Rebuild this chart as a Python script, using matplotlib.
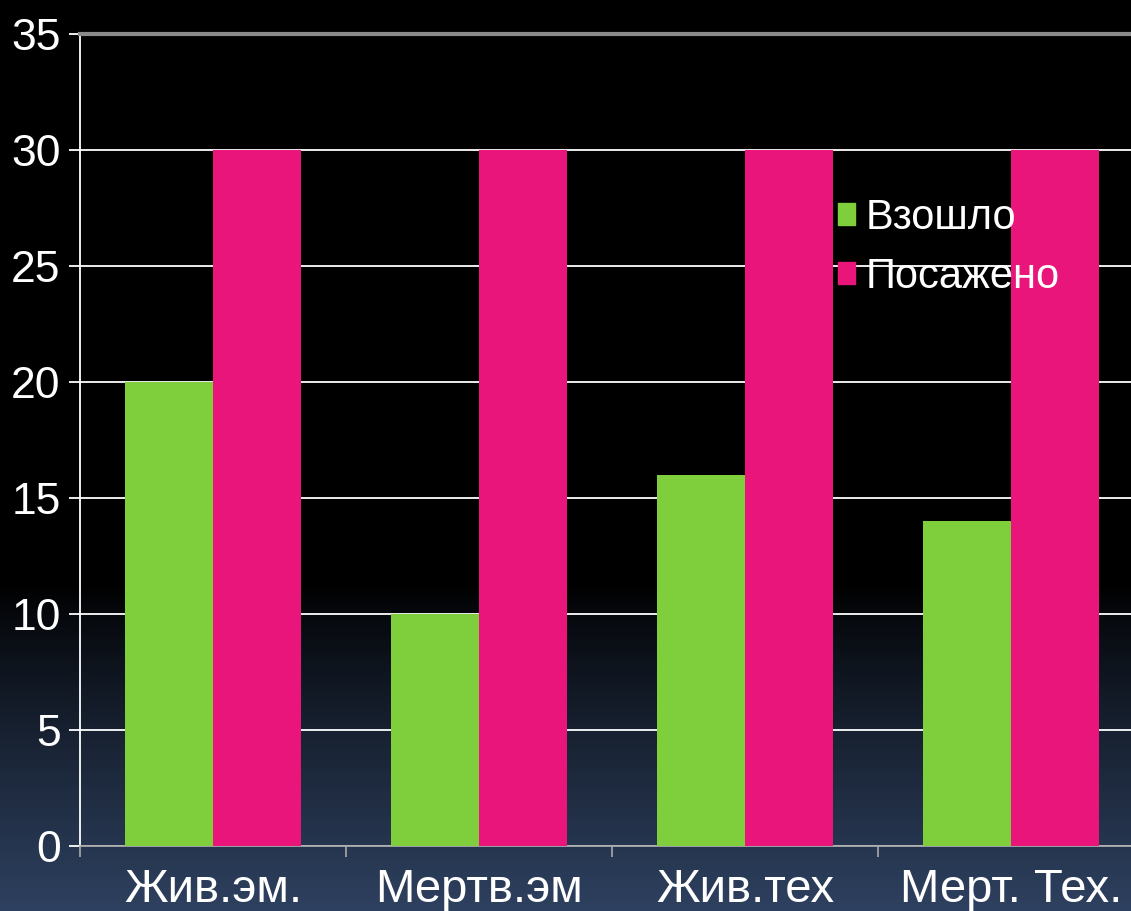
import matplotlib
matplotlib.use("Agg")
import matplotlib.pyplot as plt
import numpy as np
from matplotlib.patches import Patch

plt.rcParams["font.family"] = ["Liberation Sans", "DejaVu Sans"]

categories = ["Жив.эм.", "Мертв.эм", "Жив.тех", "Мерт. Тех."]
vzoshlo = [20, 10, 16, 14]
posazheno = [30, 30, 30, 30]
yticks = [0, 5, 10, 15, 20, 25, 30, 35]

C_GREEN = "#7ecf3b"
C_PINK = "#ea157b"

fig = plt.figure(figsize=(11.31, 9.11), dpi=100)
fig.patch.set_facecolor("black")

# фон: чёрный сверху, к низу переходит в тёмно-синий
bg = fig.add_axes([0, 0, 1, 1], zorder=-10)
h = 911
t = np.clip((np.arange(h) - 585) / (h - 585), 0, 1)[::-1]
t = t ** 0.85
top = np.array([0, 0, 0]) / 255
bot = np.array([46, 65, 96]) / 255
grad = top[None, :] * (1 - t[:, None]) + bot[None, :] * t[:, None]
bg.imshow(np.repeat(grad[:, None, :], 4, axis=1), aspect="auto", extent=[0, 1, 0, 1], origin="lower")
bg.axis("off")

ax = fig.add_axes([80 / 1131, 1 - 846 / 911, 1064 / 1131, 812 / 911])
ax.set_facecolor("none")
x = np.arange(len(categories))
w = 0.33
ax.bar(x - w / 2, vzoshlo, w, color=C_GREEN, zorder=3, label="Взошло")
ax.bar(x + w / 2, posazheno, w, color=C_PINK, zorder=3, label="Посажено")

ax.set_xlim(-0.5, len(categories) - 0.5)
ax.set_ylim(0, 35)
ax.set_yticks(yticks)
ax.yaxis.grid(True, color="white", lw=1.3, zorder=1)
ax.set_axisbelow(True)

ax.set_xticks(x)
ax.set_xticklabels(categories)
ax.set_xticks(np.arange(len(categories) + 1) - 0.5, minor=True)
ax.tick_params(axis="x", which="major", length=0, pad=16, labelsize=34, labelcolor="white")
ax.tick_params(axis="x", which="minor", length=8, color="#aaaaaa", width=1.2, direction="out")
ax.tick_params(axis="y", length=8, color="white", width=1.3, pad=6, labelsize=32, labelcolor="white")

ax.spines["right"].set_visible(False)
ax.spines["left"].set_color("white")
ax.spines["left"].set_linewidth(1.3)
ax.spines["bottom"].set_color("#aaaaaa")
ax.spines["bottom"].set_linewidth(1.3)
ax.spines["top"].set_color("#8a8a8a")
ax.spines["top"].set_linewidth(3)

handles = [Patch(color=C_GREEN), Patch(color=C_PINK)]
leg = fig.legend(handles, ["Взошло", "Посажено"], loc="upper left",
                 bbox_to_anchor=(817 / 1131, 1 - 177 / 911), frameon=False,
                 fontsize=30, labelcolor="white", handlelength=0.42, handleheight=0.42,
                 handletextpad=0.25, borderpad=0, labelspacing=0.45)
leg.set_zorder(10)

fig.savefig("out.png", dpi=100, facecolor=fig.get_facecolor())
